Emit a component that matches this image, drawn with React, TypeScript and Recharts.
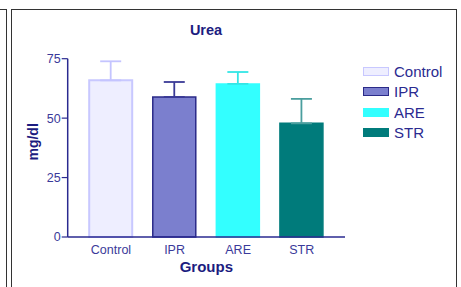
import { BarChart, Bar, XAxis, YAxis, ErrorBar, Label } from 'recharts'

const groups = ['Control', 'IPR', 'ARE', 'STR']
const means = [65.9, 58.9, 64.4, 47.8]
const sems = [8.0, 6.3, 5.0, 10.3]
const yTicks = [0, 25, 50, 75]

const fills = ['#eeeeff', '#7b7fce', '#33ffff', '#007b7b']
const strokes = ['#c8c8ff', '#2a2a88', '#33ffff', '#007b7b']
const errColors = ['#c4c4ff', '#3a3a96', '#33e6e6', '#4a9e9e']

const NAVY = '#1c1c80'
const TICK = '#3a3a9a'
const FONT = 'Arial, "Liberation Sans", sans-serif'

// one row per group, only that group's key filled so the stacked bars sit alone
const data = groups.map((g, i) => ({
  group: g,
  [g]: means[i],
  [g + '_err']: [0, sems[i]],
}))

export default function App() {
  return (
    <div
      style={{
        position: 'absolute',
        left: 0,
        top: 0,
        width: 461,
        height: 287,
        background: '#fff',
        overflow: 'hidden',
        fontFamily: FONT,
      }}
    >
      {/* neighbouring panel edge */}
      <div
        style={{
          position: 'absolute',
          left: -2,
          top: 9,
          width: 7,
          height: 300,
          border: '1.5px solid #333',
        }}
      />
      {/* frame */}
      <div
        style={{
          position: 'absolute',
          left: 11,
          top: 9,
          width: 444,
          height: 300,
          border: '1.5px solid #333',
        }}
      />
      <div
        style={{
          position: 'absolute',
          left: 156,
          width: 100,
          top: 22,
          textAlign: 'center',
          fontWeight: 'bold',
          fontSize: 14.5,
          color: NAVY,
        }}
      >
        Urea
      </div>

      <div style={{ position: 'absolute', left: 0, top: 0 }}>
        <BarChart
          width={461}
          height={287}
          data={data}
          margin={{ top: 58.7, right: 116, bottom: 0, left: 27.7 }}
          barSize={43}
        >
          <XAxis
            dataKey="group"
            height={50}
            padding={{ left: 11.5, right: 11.5 }}
            axisLine={{ stroke: '#2a2a90', strokeWidth: 1.5 }}
            tickLine={false}
            tickSize={0}
            tickMargin={8}
            tick={{ fill: TICK, fontSize: 12.5, fontFamily: FONT }}
          >
            <Label
              value="Groups"
              position="insideTop"
              offset={24}
              style={{ fill: NAVY, fontWeight: 'bold', fontSize: 15, fontFamily: FONT }}
            />
          </XAxis>
          <YAxis
            width={40}
            domain={[0, 75]}
            ticks={yTicks}
            axisLine={{ stroke: '#2a2a90', strokeWidth: 1.5 }}
            tickLine={{ stroke: '#2a2a90', strokeWidth: 1.2 }}
            tickSize={6}
            tickMargin={1}
            tick={{ fill: TICK, fontSize: 12.5, fontFamily: FONT }}
          >
            <Label
              content={({ viewBox }: any) => {
                const cx = viewBox.x + 5.3
                const cy = viewBox.y + viewBox.height / 2 - 6
                return (
                  <text
                    x={cx}
                    y={cy}
                    transform={`rotate(-90 ${cx} ${cy})`}
                    textAnchor="middle"
                    dy="0.355em"
                    fill={NAVY}
                    fontWeight="bold"
                    fontSize={14}
                    fontFamily={FONT}
                  >
                    mg/dl
                  </text>
                )
              }}
            />
          </YAxis>
          {groups.map((g, i) => (
            <Bar
              key={g}
              dataKey={g}
              stackId="a"
              fill={fills[i]}
              stroke={strokes[i]}
              strokeWidth={i === 0 ? 2 : 1.5}
              isAnimationActive={false}
            >
              <ErrorBar
                dataKey={g + '_err'}
                direction="y"
                width={10.5}
                stroke={errColors[i]}
                strokeWidth={1.8}
                isAnimationActive={false}
              />
            </Bar>
          ))}
        </BarChart>
      </div>

      {/* legend */}
      <div style={{ position: 'absolute', left: 363, top: 61 }}>
        {groups.map((g, i) => (
          <div
            key={g}
            style={{ display: 'flex', alignItems: 'center', height: 20.5 }}
          >
            <div
              style={{
                width: 24,
                height: 7,
                background: fills[i],
                border: `1.5px solid ${strokes[i]}`,
                marginRight: 5,
              }}
            />
            <span style={{ fontSize: 15, color: '#2a2a90', lineHeight: '15px' }}>{g}</span>
          </div>
        ))}
      </div>
    </div>
  )
}
